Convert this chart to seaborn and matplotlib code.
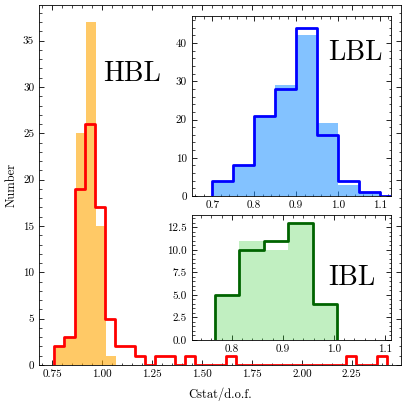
import numpy as np
import pandas as pd
import matplotlib
matplotlib.use("Agg")
import matplotlib.pyplot as plt
import seaborn as sns

# ---------------- data ----------------
# HBL (main panel)
hbl_fill_range = (0.769, 1.071)
hbl_fill_counts = [2, 3, 25, 37, 15, 1]
hbl_step_range = (0.76, 2.425)
hbl_step_counts = [2, 3, 19, 26, 17, 5, 2, 2, 1, 0,
                   1, 1, 0, 1, 0, 0, 0, 1, 0, 0,
                   0, 0, 0, 0, 0, 0, 0, 0, 0, 1,
                   0, 0, 1]
# LBL (upper inset)
lbl_edges = [0.70, 0.75, 0.80, 0.85, 0.90, 0.95, 1.00, 1.05, 1.10, 1.15]
lbl_fill_counts = [4, 8, 21, 29, 42, 19, 3, 1, 0]
lbl_step_counts = [4, 8, 21, 28, 44, 16, 4, 1, 0]
# IBL (lower inset)
ibl_range = (0.767, 1.006)
ibl_fill_counts = [5, 11, 10, 13, 4]
ibl_step_counts = [5, 10, 11, 13, 4]

main_xticks = [0.75, 1.00, 1.25, 1.50, 1.75, 2.00, 2.25]
main_yticks = [0, 5, 10, 15, 20, 25, 30, 35]
inset_xticks = [0.7, 0.8, 0.9, 1.0, 1.1]
lbl_yticks = [0, 10, 20, 30, 40]
ibl_yticks = [0.0, 2.5, 5.0, 7.5, 10.0, 12.5]

# ---------------- style ----------------
sns.set_style("ticks")
plt.rcParams.update({
    "font.family": ["cmr10", "DejaVu Serif"],
    "mathtext.fontset": "cm",
    "axes.formatter.use_mathtext": True,
    "axes.linewidth": 0.6,
    "axes.edgecolor": "black",
    "text.color": "black",
    "axes.labelcolor": "black",
    "xtick.direction": "in", "ytick.direction": "in",
    "xtick.top": True, "ytick.right": True,
    "xtick.minor.visible": True, "ytick.minor.visible": True,
    "xtick.major.size": 3.5, "ytick.major.size": 3.5,
    "xtick.minor.size": 1.8, "ytick.minor.size": 1.8,
    "xtick.major.width": 0.6, "ytick.major.width": 0.6,
    "xtick.minor.width": 0.5, "ytick.minor.width": 0.5,
    "xtick.color": "black", "ytick.color": "black",
    "xtick.labelcolor": "black", "ytick.labelcolor": "black",
    "xtick.labelsize": 8, "ytick.labelsize": 8,
    "axes.labelsize": 9,
})


def edges_from(rng, n):
    return [float(v) for v in np.linspace(rng[0], rng[1], n + 1)]


def draw_fill(ax, edges, counts, color, alpha):
    edges = [float(v) for v in edges]
    centers = [0.5 * (a + b) for a, b in zip(edges[:-1], edges[1:])]
    df = pd.DataFrame({"x": centers, "w": [float(c) for c in counts]})
    sns.histplot(data=df, x="x", weights="w", bins=edges, element="bars",
                 fill=True, color=color, alpha=alpha, linewidth=0,
                 ax=ax)


def draw_step(ax, edges, counts, color, lw):
    edges = [float(v) for v in edges]
    eps = 1e-6
    # tiny empty bins at both ends so the outline drops to zero like a step histogram
    ext_edges = [edges[0] - eps] + edges + [edges[-1] + eps]
    centers = [0.5 * (a + b) for a, b in zip(edges[:-1], edges[1:])]
    df = pd.DataFrame({"x": centers, "w": [float(c) for c in counts]})
    sns.histplot(data=df, x="x", weights="w", bins=ext_edges, element="step",
                 fill=False, color=color, linewidth=lw, ax=ax)


fig = plt.figure(figsize=(4.07, 4.05), dpi=100)

# main axes
ax = fig.add_axes([39 / 407, 1 - 365 / 405, (401 - 39) / 407, (365 - 5) / 405])
draw_fill(ax, edges_from(hbl_fill_range, len(hbl_fill_counts)), hbl_fill_counts,
          "#ffa500", 0.6)
draw_step(ax, edges_from(hbl_step_range, len(hbl_step_counts)), hbl_step_counts,
          "red", 2.0)
ax.set_xlim(0.683, 2.497)
ax.set_ylim(0, 38.85)
ax.set_xticks(main_xticks)
ax.set_yticks(main_yticks)
ax.set_xticklabels([f"{v:.2f}" for v in main_xticks])
ax.set_yticklabels([f"{v:d}" for v in main_yticks])
ax.set_xlabel("Cstat/d.o.f.", labelpad=6)
ax.set_ylabel("Number", labelpad=4)
ax.text(0.177, 0.79, "HBL", transform=ax.transAxes, fontsize=20,
        ha="left", va="baseline", color="black")

# LBL inset
ax1 = fig.add_axes([191.7 / 407, 1 - 196 / 405, 199 / 407, 180 / 405])
draw_fill(ax1, lbl_edges, lbl_fill_counts, "#1e90ff", 0.55)
draw_step(ax1, lbl_edges, lbl_step_counts, "blue", 2.0)
ax1.set_xlim(0.651, 1.1255)
ax1.set_ylim(0, 47.1)
ax1.set_xticks(inset_xticks)
ax1.set_yticks(lbl_yticks)
ax1.set_xticklabels([f"{v:.1f}" for v in inset_xticks])
ax1.set_yticklabels([f"{v:d}" for v in lbl_yticks])
ax1.set_xlabel("")
ax1.set_ylabel("")
ax1.text(0.685, 0.755, "LBL", transform=ax1.transAxes, fontsize=20,
         ha="left", va="baseline", color="black")

# IBL inset
ax2 = fig.add_axes([191.7 / 407, 1 - 340 / 405, 199 / 407, 125 / 405])
ibl_edges = edges_from(ibl_range, len(ibl_fill_counts))
draw_fill(ax2, ibl_edges, ibl_fill_counts, "#32cd32", 0.3)
draw_step(ax2, ibl_edges, ibl_step_counts, "darkgreen", 2.0)
ax2.set_xlim(0.7216, 1.111)
ax2.set_ylim(0, 13.87)
ax2.set_xticks(inset_xticks[1:])
ax2.set_yticks(ibl_yticks)
ax2.set_xticklabels([f"{v:.1f}" for v in inset_xticks[1:]])
ax2.set_yticklabels([f"{v:.1f}" for v in ibl_yticks])
ax2.set_xlabel("")
ax2.set_ylabel("")
ax2.text(0.685, 0.44, "IBL", transform=ax2.transAxes, fontsize=20,
         ha="left", va="baseline", color="black")

fig.savefig("out.png", dpi=100)
